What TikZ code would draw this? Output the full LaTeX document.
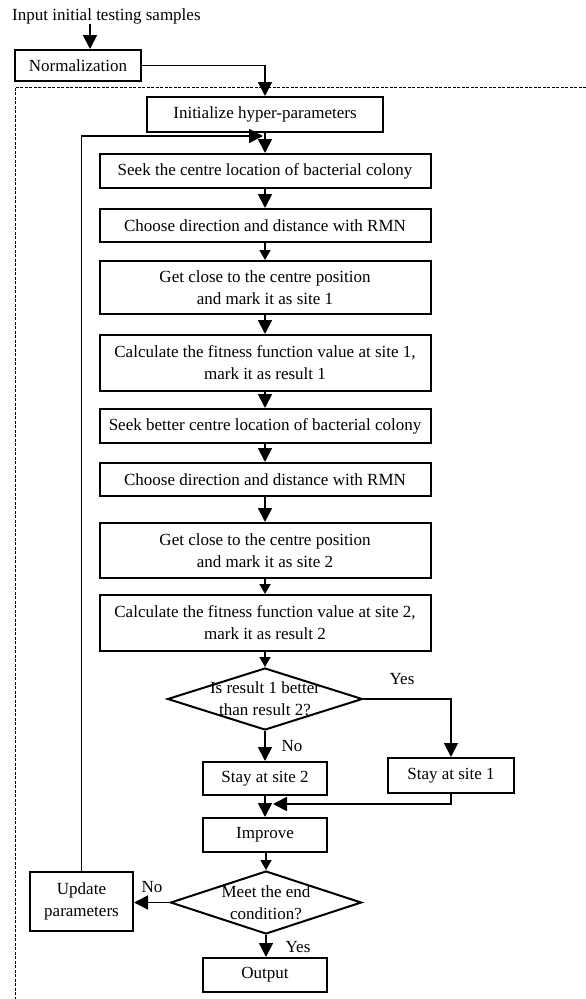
\documentclass[tikz,border=0pt]{standalone}
\usepackage{fontspec}
\setmainfont{Liberation Serif}
\usetikzlibrary{arrows.meta,shapes.geometric,positioning}
\tikzset{
  box/.style={draw, line width=2pt, align=center, inner sep=0pt, minimum width=#1},
  dia/.style={draw, diamond, line width=2pt, inner sep=0pt},
  conn/.style={line width=1.8pt},
  bigarr/.style={conn, -{Triangle[width=14pt,length=14pt]}},
  smallarr/.style={conn, -{Triangle[width=11pt,length=10pt]}},
  lbl/.style={inner sep=0pt},
  frame/.style={line width=1pt, dash pattern=on 3pt off 1.5pt}
}
\begin{document}
\begin{tikzpicture}[x=1pt,y=-1pt,font=\fontsize{17}{22}\selectfont]
\useasboundingbox (0,0) rectangle (586,999);
% dashed frame
\coordinate (f0) at (15,87);
\coordinate (f1) at (586,87);
\coordinate (f2) at (15,999);
\draw[frame] (f1) -- (f0) -- (f2);

\node[lbl, anchor=west] (input) at (12,16) {Input initial testing samples};
\node[box=126, minimum height=31] (norm) at (78,65.5) {Normalization};
\node[box=236, minimum height=35] (init) at (265,114.5) {Initialize hyper-parameters};
\node[box=331, minimum height=34] (seek1) at (265,171) {Seek the centre location of bacterial colony};
\node[box=331, minimum height=33] (choose1) at (265,225.5) {Choose direction and distance with RMN};
\node[box=331, minimum height=53] (close1) at (265,287.5) {Get close to the centre position\\and mark it as site 1};
\node[box=331, minimum height=56] (calc1) at (265,363) {Calculate the fitness function value at site 1,\\mark it as result 1};
\node[box=331, minimum height=34] (seek2) at (265,426) {Seek better centre location of bacterial colony};
\node[box=331, minimum height=33] (choose2) at (265,479.5) {Choose direction and distance with RMN};
\node[box=331, minimum height=55] (close2) at (265,550.5) {Get close to the centre position\\and mark it as site 2};
\node[box=331, minimum height=56] (calc2) at (265,623) {Calculate the fitness function value at site 2,\\mark it as result 2};
\node[dia, minimum width=195, minimum height=62,
  label={[align=center]center:Is result 1 better\\than result 2?}] (d1) at (265,699) {};
\node[box=126, minimum height=35] (stay1) at (451,775.5) {Stay at site 1};
\node[box=124, minimum height=33] (stay2) at (265,778.5) {Stay at site 2};
\node[box=124, minimum height=34] (improve) at (265,835) {Improve};
\node[dia, minimum width=191, minimum height=63,
  label={[align=center]center:Meet the end\\condition?}] (d2) at (266,902.5) {};
\node[box=103, minimum height=59] (update) at (81.5,901.5) {Update\\parameters};
\node[box=124, minimum height=34] (output) at (265,975) {Output};

% labels
\node[lbl] (yes1) at (402,679) {Yes};
\node[lbl] (no1) at (292,746) {No};
\node[lbl] (no2) at (152,887) {No};
\node[lbl] (yes2) at (298,947) {Yes};

% connectors
\coordinate (a0) at (90,25);
\draw[bigarr] (input.south -| a0) -- (a0 |- norm.north);
\draw[bigarr] (norm.east) -| (init.north);
\draw[bigarr] (init.south) -- (seek1.north);
\draw[bigarr] (seek1.south) -- (choose1.north);
\draw[smallarr] (choose1.south) -- (close1.north);
\draw[bigarr] (close1.south) -- (calc1.north);
\draw[bigarr] (calc1.south) -- (seek2.north);
\draw[bigarr] (seek2.south) -- (choose2.north);
\draw[bigarr] (choose2.south) -- (close2.north);
\draw[smallarr] (close2.south) -- (calc2.north);
\draw[smallarr] (calc2.south) -- (d1.north);
\draw[bigarr] (d1.south) -- (stay2.north);
\draw[bigarr] (d1.east) -| (stay1.north);
\draw[bigarr] (stay2.south) -- (improve.north);
\coordinate (m1) at (273,804);
\draw[bigarr] (stay1.south) |- (m1);
\draw[smallarr] (improve.south -| d2.north) -- (d2.north);
\draw[bigarr] (d2.west) -- (update.east |- d2.west);
\draw[bigarr] (d2.south) -- (d2.south |- output.north);
\coordinate (lp) at (263,136);
\draw[bigarr] (update.north) |- (lp);
\end{tikzpicture}
\end{document}
